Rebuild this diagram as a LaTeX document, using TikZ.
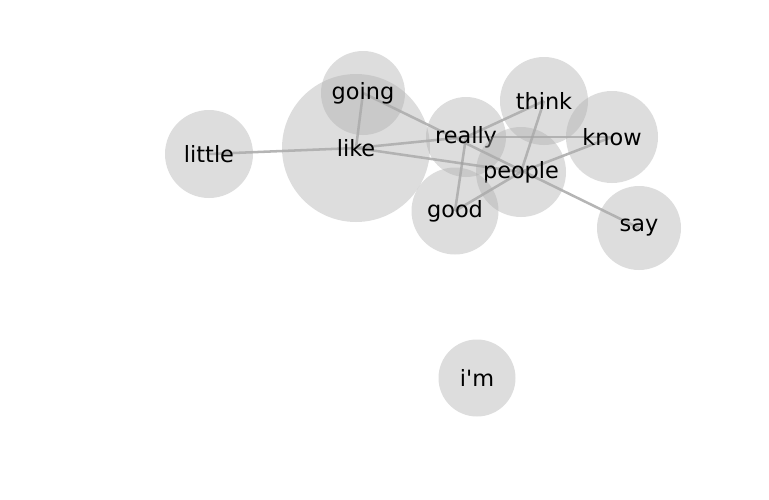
\documentclass[tikz,border=0pt]{standalone}
\usepackage{fontspec}
\newfontfamily\dejavu{DejaVu Sans}
\usetikzlibrary{backgrounds}
\definecolor{nodegray}{RGB}{172,172,172}
\definecolor{edgegray}{RGB}{150,150,150}
\tikzset{
  wnode/.style={circle, fill=nodegray, fill opacity=0.41, text opacity=1, draw=none, inner sep=0pt,
    minimum size=#1, font=\dejavu\fontsize{16.8}{19}\selectfont},
  wedge/.style={draw=edgegray, draw opacity=0.7, line width=1.9pt}
}
\begin{document}
\begin{tikzpicture}[x=0.75pt,y=-0.75pt]
\useasboundingbox (0,0) rectangle (769,500);
\node[wnode=148*0.75pt] (like) at (356,148) {like};
\node[wnode=84*0.75pt] (going) at (363,93) {going};
\node[wnode=88*0.75pt] (little) at (209,154) {little};
\node[wnode=80*0.75pt] (really) at (466,137) {really};
\node[wnode=88*0.75pt] (think) at (544,101) {think};
\node[wnode=92*0.75pt] (know) at (612,137) {know};
\node[wnode=90*0.75pt] (people) at (521,172) {people};
\node[wnode=87*0.75pt] (good) at (455,211) {good};
\node[wnode=84*0.75pt] (say) at (639,228) {say};
\node[wnode=77*0.75pt] (im) at (477,378) {i'm};
\begin{pgfonlayer}{background}
\draw[wedge] (little.center) -- (like.center);
\draw[wedge] (like.center) -- (going.center);
\draw[wedge] (going.center) -- (say.center);
\draw[wedge] (like.center) -- (really.center);
\draw[wedge] (like.center) -- (people.center);
\draw[wedge] (really.center) -- (know.center);
\draw[wedge] (really.center) -- (think.center);
\draw[wedge] (really.center) -- (good.center);
\draw[wedge] (people.center) -- (think.center);
\draw[wedge] (people.center) -- (know.center);
\draw[wedge] (people.center) -- (good.center);
\end{pgfonlayer}
\end{tikzpicture}
\end{document}
